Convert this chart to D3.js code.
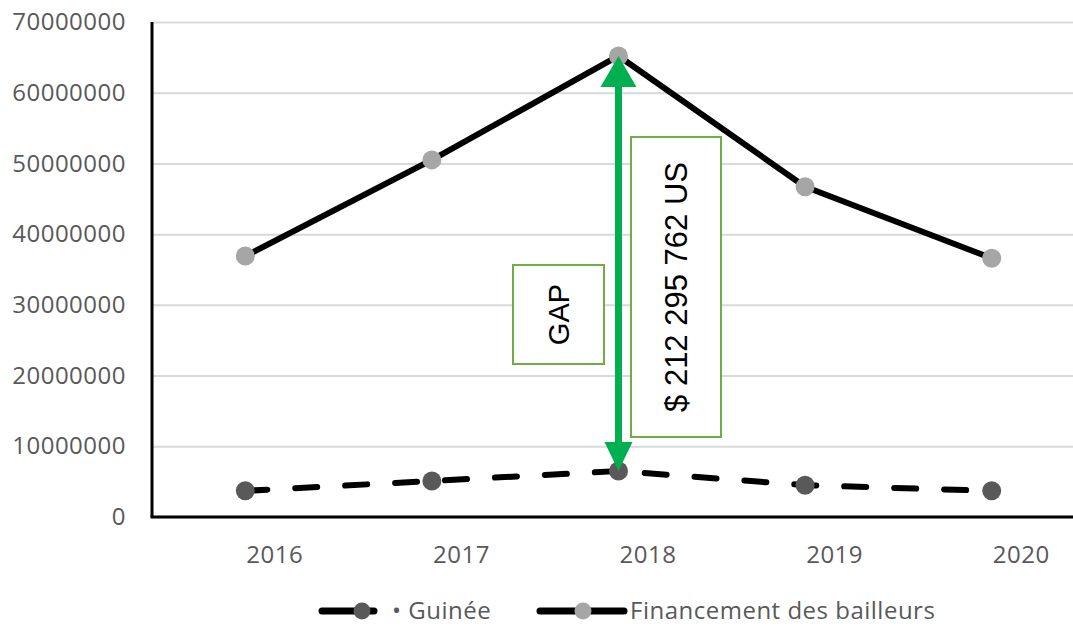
<!DOCTYPE html>
<html>
<head>
<meta charset="UTF-8">
<style>
body { margin: 0; background: #fff; }
.tick text { font-family: "Open Sans", sans-serif; fill: #595959; letter-spacing: 0.5px; }
</style>
</head>
<body>
<svg id="container" width="1073" height="626"></svg>
<script src="https://cdn.jsdelivr.net/npm/d3@7"></script>
<script>
// données
var years = ["2016", "2017", "2018", "2019", "2020"];
var guinee = [3700000, 5100000, 6500000, 4500000, 3700000];
var bailleurs = [36900000, 50500000, 65200000, 46700000, 36600000];
var yTicks = [0, 10000000, 20000000, 30000000, 40000000, 50000000, 60000000, 70000000];
var gapLabel = "$ 212 295 762 US";

var svg = d3.select("#container");
var pLeft = 152, pRight = 1085, pTop = 22, pBottom = 517;

var x = d3.scalePoint().domain(years).range([pLeft, pRight]).padding(0.5);
var y = d3.scaleLinear().domain([0, 70000000]).range([pBottom, pTop]);

// grille
svg.append("g")
  .attr("transform", "translate(" + pLeft + ",0)")
  .call(d3.axisLeft(y).tickValues(yTicks).tickSize(-(1073 - pLeft)).tickFormat(""))
  .call(g => g.select(".domain").remove())
  .call(g => g.selectAll("line").attr("stroke", "#d9d9d9").attr("stroke-width", 2));

// étiquettes axe Y
svg.append("g")
  .attr("transform", "translate(" + pLeft + ",0)")
  .call(d3.axisLeft(y).tickValues(yTicks).tickSize(0).tickPadding(26).tickFormat(d3.format("d")))
  .call(g => g.select(".domain").remove())
  .call(g => g.selectAll("text").attr("font-size", 24));

// étiquettes axe X (décalées comme dans l'original)
svg.append("g")
  .attr("transform", "translate(29," + pBottom + ")")
  .call(d3.axisBottom(x).tickSize(0).tickPadding(29))
  .call(g => g.select(".domain").remove())
  .call(g => g.selectAll("text").attr("font-size", 24));

// axes noirs
svg.append("line").attr("x1", pLeft).attr("x2", pLeft).attr("y1", pTop).attr("y2", pBottom)
  .attr("stroke", "#000").attr("stroke-width", 3);
svg.append("line").attr("x1", pLeft - 1.5).attr("x2", 1073).attr("y1", pBottom).attr("y2", pBottom)
  .attr("stroke", "#000").attr("stroke-width", 3);

var line = d3.line().x((d, i) => x(years[i])).y(d => y(d));

svg.append("path").datum(guinee).attr("d", line)
  .attr("fill", "none").attr("stroke", "#000").attr("stroke-width", 6)
  .attr("stroke-linecap", "round").attr("stroke-dasharray", "22,28");
svg.append("path").datum(bailleurs).attr("d", line)
  .attr("fill", "none").attr("stroke", "#000").attr("stroke-width", 6)
  .attr("stroke-linejoin", "round");

svg.selectAll(".pg").data(guinee).enter().append("circle")
  .attr("cx", (d, i) => x(years[i])).attr("cy", d => y(d)).attr("r", 9.5).attr("fill", "#595959");
svg.selectAll(".pb").data(bailleurs).enter().append("circle")
  .attr("cx", (d, i) => x(years[i])).attr("cy", d => y(d)).attr("r", 9.5).attr("fill", "#a6a6a6");

// flèche GAP
var ax = x("2018"), ay1 = y(bailleurs[2]), ay2 = y(guinee[2]);
var green = "#00b050";
svg.append("line").attr("x1", ax).attr("x2", ax).attr("y1", ay1 + 20).attr("y2", ay2 - 20)
  .attr("stroke", green).attr("stroke-width", 7);
svg.append("path").attr("d", "M" + ax + "," + ay1 + "L" + (ax - 18) + "," + (ay1 + 31) + "L" + (ax + 18) + "," + (ay1 + 31) + "Z")
  .attr("fill", green);
svg.append("path").attr("d", "M" + ax + "," + ay2 + "L" + (ax - 14) + "," + (ay2 - 29) + "L" + (ax + 14) + "," + (ay2 - 29) + "Z")
  .attr("fill", green);

// boîtes de texte
function box(x0, y0, w, h, txt, fs) {
  svg.append("rect").attr("x", x0).attr("y", y0).attr("width", w).attr("height", h)
    .attr("fill", "#fff").attr("stroke", "#70ad47").attr("stroke-width", 2);
  svg.append("text")
    .attr("transform", "translate(" + (x0 + w / 2) + "," + (y0 + h / 2) + ") rotate(-90)")
    .attr("text-anchor", "middle").attr("dy", "0.35em")
    .attr("font-family", "Liberation Sans, Arial, sans-serif").attr("font-size", fs)
    .attr("fill", "#000").text(txt);
}
box(513, 265, 91, 99, "GAP", 29);
box(631, 137, 90, 300, gapLabel, 31);

// légende
var ly = 611;
var leg = svg.append("g").attr("font-family", "'Open Sans', sans-serif").attr("font-size", 24)
  .attr("letter-spacing", "0.5px").attr("fill", "#595959");
leg.append("line").attr("x1", 322).attr("x2", 374).attr("y1", ly).attr("y2", ly)
  .attr("stroke", "#000").attr("stroke-width", 7).attr("stroke-linecap", "round");
leg.append("circle").attr("cx", 362).attr("cy", ly).attr("r", 8.5).attr("fill", "#595959");
leg.append("text").attr("x", 392).attr("y", ly).attr("dy", "0.35em").text("• Guinée");
leg.append("line").attr("x1", 540).attr("x2", 624).attr("y1", ly).attr("y2", ly)
  .attr("stroke", "#000").attr("stroke-width", 7).attr("stroke-linecap", "round");
leg.append("circle").attr("cx", 583).attr("cy", ly).attr("r", 8.5).attr("fill", "#a6a6a6");
leg.append("text").attr("x", 630).attr("y", ly).attr("dy", "0.35em").text("Financement des bailleurs");
</script>
</body>
</html>
